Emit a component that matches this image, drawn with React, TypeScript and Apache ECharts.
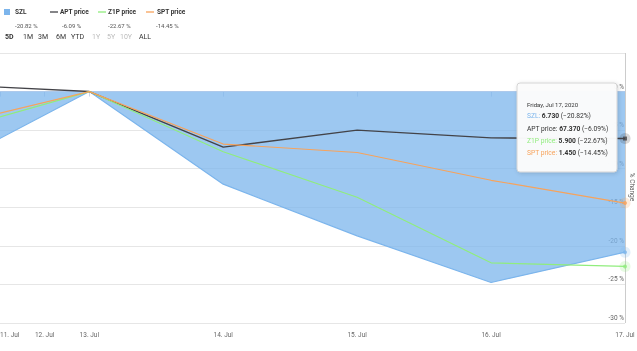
import React, { useEffect, useRef } from "react";
import * as echarts from "echarts";

// ordinal (trading-day) positions: Fri 10 Jul = 0, Mon 13 Jul = 1 ... Fri 17 Jul = 5
const dayIndex = [0, 1, 2, 3, 4, 5];
const tickPositions = [1 / 3, 2 / 3, 1, 2, 3, 4, 5];
const tickLabels = ["11. Jul", "12. Jul", "13. Jul", "14. Jul", "15. Jul", "16. Jul", "17. Jul"];

const seriesNames = ["SZL", "APT price", "Z1P price", "SPT price"];
const seriesColors = ["#7cb5ec", "#434348", "#90ed7d", "#f7a35c"];
const szl = [-9.1, 0, -12.0, -18.7, -24.75, -20.82];
const apt = [0.86, 0, -7.2, -5.0, -6.0, -6.09];
const z1p = [-4.9, 0, -7.8, -13.7, -22.2, -22.67];
const spt = [-4.2, 0, -6.8, -7.9, -11.5, -14.45];
const lastPrices = ["6.730", "67.370", "5.900", "1.450"];
const tooltipDate = "Friday, Jul 17, 2020";
const yAxisTitle = "% Change";
const rangeButtons = ["5D", "1M", "3M", "6M", "YTD", "1Y", "5Y", "10Y", "ALL"];
const rangeDisabled = ["1Y", "5Y", "10Y"];

const FONT = "Roboto, 'Liberation Sans', sans-serif";

export default function App() {
  const ref = useRef<HTMLDivElement>(null);
  useEffect(() => {
    if (!ref.current) return;
    const chart = echarts.init(ref.current, null, { renderer: "svg" });
    const allSeries = [szl, apt, z1p, spt];
    const pairs = (arr: number[]) => arr.map((v, i) => [dayIndex[i], v]);
    const last = allSeries.map((s) => s[s.length - 1]);
    const fmt = (v: number) => `${v.toFixed(2)} %`;

    const legendX = [4, 50, 98, 146];
    const legendTextX = [15, 60, 108, 157];
    const legendValX = [15, 62, 108, 156];
    const graphics: any[] = [];
    // legend
    graphics.push({ type: "rect", shape: { x: legendX[0], y: 9, width: 6, height: 6 }, style: { fill: seriesColors[0] } });
    for (let i = 1; i < 4; i++) {
      graphics.push({
        type: "line",
        shape: { x1: legendX[i], y1: 12, x2: legendX[i] + 8, y2: 12 },
        style: { stroke: seriesColors[i], lineWidth: 1.3 },
      });
    }
    for (let i = 0; i < 4; i++) {
      graphics.push({
        type: "text",
        x: legendTextX[i],
        y: 12,
        style: { text: seriesNames[i], fill: "#333", font: `bold 6.5px ${FONT}`, verticalAlign: "middle" },
      });
      graphics.push({
        type: "text",
        x: legendValX[i],
        y: 25,
        style: { text: fmt(last[i]), fill: "#555", font: `6px ${FONT}`, verticalAlign: "middle" },
      });
    }
    const rangeX = [5, 23, 38, 56, 71, 92, 107, 120, 139];
    rangeButtons.forEach((b, i) => {
      graphics.push({
        type: "text",
        x: rangeX[i],
        y: 37,
        style: {
          text: b,
          fill: rangeDisabled.includes(b) ? "#bbb" : "#333",
          font: `${i === 0 ? "bold " : ""}7px ${FONT}`,
          verticalAlign: "middle",
        },
      });
    });
    // y-axis title
    graphics.push({
      type: "text",
      x: 631.5,
      y: 187,
      rotation: -Math.PI / 2,
      style: { text: yAxisTitle, fill: "#666", font: `6.5px ${FONT}`, align: "center", verticalAlign: "middle" },
    });
    // tooltip
    const TZ = 100;
    graphics.push({
      type: "rect",
      z: TZ,
      shape: { x: 517, y: 83, width: 100, height: 89, r: 3 },
      style: {
        fill: "rgba(252,252,252,0.97)",
        stroke: "#d4d4d4",
        lineWidth: 1,
        shadowBlur: 4,
        shadowColor: "rgba(0,0,0,0.15)",
        shadowOffsetX: 1,
        shadowOffsetY: 1,
      },
    });
    graphics.push({
      type: "text",
      z: TZ + 1,
      x: 527,
      y: 104,
      style: { text: tooltipDate, fill: "#333", font: `6px ${FONT}`, verticalAlign: "middle" },
    });
    const tipY = [115.5, 128.5, 141, 153];
    for (let i = 0; i < 4; i++) {
      graphics.push({
        type: "text",
        z: TZ + 1,
        x: 527,
        y: tipY[i],
        style: {
          text: `{s|${seriesNames[i]}: }{b|${lastPrices[i]}}{n| (${last[i] < 0 ? "−" : ""}${Math.abs(last[i]).toFixed(2)}%)}`,
          verticalAlign: "middle",
          rich: {
            s: { fill: i === 1 ? "#333" : seriesColors[i], font: `6.7px ${FONT}` },
            b: { fill: "#333", font: `bold 6.7px ${FONT}` },
            n: { fill: "#333", font: `6.7px ${FONT}` },
          },
        },
      });
    }

    const lineSeries = allSeries.map((s, i) => ({
      type: "line",
      name: seriesNames[i],
      data: pairs(s),
      showSymbol: false,
      symbol: "none",
      z: 2 + i,
      lineStyle: { color: seriesColors[i], width: i === 1 ? 1.4 : 1.2 },
      itemStyle: { color: seriesColors[i] },
      areaStyle: i === 0 ? { color: seriesColors[0], opacity: 0.75 } : undefined,
      markLine:
        i === 0
          ? {
              silent: true,
              symbol: "none",
              label: { show: false },
              lineStyle: { color: "#cccccc", width: 1, type: "solid" },
              data: [{ xAxis: dayIndex[5] }],
            }
          : undefined,
    }));
    const halos = allSeries.map((s, i) => ({
      type: "scatter",
      data: [[dayIndex[5], s[s.length - 1]]],
      symbol: "circle",
      symbolSize: 11,
      z: 10,
      itemStyle: { color: i === 1 ? "#434348" : seriesColors[i], opacity: 0.22 },
    }));
    const markers = allSeries.map((s, i) => ({
      type: "scatter",
      data: [[dayIndex[5], s[s.length - 1]]],
      symbol: i === 1 ? "rect" : "circle",
      symbolSize: 4,
      z: 11,
      itemStyle: { color: seriesColors[i] },
    }));

    chart.setOption({
      animation: false,
      textStyle: { fontFamily: FONT },
      grid: { left: 0, right: 12, top: 53, bottom: 28, outerBoundsMode: "none", containLabel: false },
      xAxis: {
        type: "value",
        min: 1 / 3,
        max: 5,
        splitLine: { show: false },
        axisLine: { show: true, lineStyle: { color: "#ccd6eb" } },
        axisTick: { show: true, customValues: tickPositions, length: 5, lineStyle: { color: "#ccd6eb" } },
        axisLabel: {
          customValues: tickPositions,
          formatter: (v: number) => {
            const k = tickPositions.findIndex((t) => Math.abs(t - v) < 1e-6);
            return k >= 0 ? tickLabels[k] : "";
          },
          color: "#666",
          fontSize: 6.5,
          margin: 8,
          alignMinLabel: "left",
          showMinLabel: true,
          showMaxLabel: true,
        },
      },
      yAxis: {
        type: "value",
        position: "right",
        min: -30,
        max: 5,
        interval: 5,
        axisLine: { show: false },
        axisTick: { show: false },
        splitLine: { show: true, lineStyle: { color: "#e6e6e6", width: 1 } },
        axisLabel: {
          inside: true,
          margin: 1,
          color: "#666",
          fontSize: 6.5,
          verticalAlign: "bottom",
          padding: [0, 0, 1.5, 0],
          formatter: (v: number) => (v === 5 ? "" : `${v} %`),
        },
      },
      series: [...lineSeries, ...halos, ...markers],
      graphic: graphics,
    });
    return () => chart.dispose();
  }, []);
  return <div ref={ref} style={{ position: "fixed", left: 0, top: 0, width: 637, height: 351 }} />;
}
